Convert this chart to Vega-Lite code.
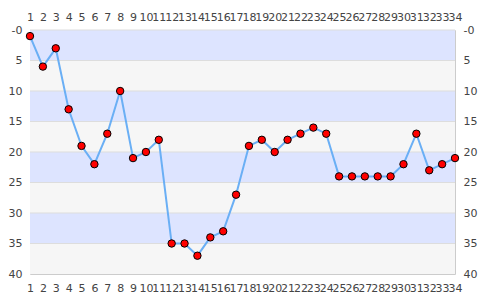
{
  "$schema": "https://vega.github.io/schema/vega-lite/v6.json",
  "width": 425,
  "height": 244,
  "autosize": "none",
  "padding": {"left": 30, "top": 30, "right": 30, "bottom": 26},
  "config": {
    "view": {"stroke": "#cccccc", "strokeWidth": 1},
    "font": "DejaVu Sans",
    "axis": {"labelFont": "DejaVu Sans", "labelFontSize": 11, "labelColor": "#444444", "ticks": false, "domain": false, "grid": false, "title": null}
  },
  "datasets": {
    "bands": [
      {"b0": 0, "b1": 5, "k": "a"},
      {"b0": 5, "b1": 10, "k": "b"},
      {"b0": 10, "b1": 15, "k": "a"},
      {"b0": 15, "b1": 20, "k": "b"},
      {"b0": 20, "b1": 25, "k": "a"},
      {"b0": 25, "b1": 30, "k": "b"},
      {"b0": 30, "b1": 35, "k": "a"},
      {"b0": 35, "b1": 40, "k": "b"}
    ],
    "series": [
      {"x": 1, "y": 1}, {"x": 2, "y": 6}, {"x": 3, "y": 3}, {"x": 4, "y": 13},
      {"x": 5, "y": 19}, {"x": 6, "y": 22}, {"x": 7, "y": 17}, {"x": 8, "y": 10},
      {"x": 9, "y": 21}, {"x": 10, "y": 20}, {"x": 11, "y": 18}, {"x": 12, "y": 35},
      {"x": 13, "y": 35}, {"x": 14, "y": 37}, {"x": 15, "y": 34}, {"x": 16, "y": 33},
      {"x": 17, "y": 27}, {"x": 18, "y": 19}, {"x": 19, "y": 18}, {"x": 20, "y": 20},
      {"x": 21, "y": 18}, {"x": 22, "y": 17}, {"x": 23, "y": 16}, {"x": 24, "y": 17},
      {"x": 25, "y": 24}, {"x": 26, "y": 24}, {"x": 27, "y": 24}, {"x": 28, "y": 24},
      {"x": 29, "y": 24}, {"x": 30, "y": 22}, {"x": 31, "y": 17}, {"x": 32, "y": 23},
      {"x": 33, "y": 22}, {"x": 34, "y": 21}
    ]
  },
  "layer": [
    {
      "data": {"name": "bands"},
      "mark": {"type": "rect"},
      "encoding": {
        "y": {"field": "b0", "type": "quantitative", "scale": {"domain": [0, 40], "reverse": true, "nice": false}, "axis": null},
        "y2": {"field": "b1"},
        "color": {"field": "k", "type": "nominal", "scale": {"domain": ["a", "b"], "range": ["#dde4ff", "#f6f6f6"]}, "legend": null}
      }
    },
    {
      "data": {"name": "bands"},
      "mark": {"type": "rule", "color": "#dddddd", "strokeWidth": 1},
      "encoding": {
        "y": {"field": "b0", "type": "quantitative", "axis": null}
      }
    },
    {
      "data": {"name": "series"},
      "mark": {"type": "line", "color": "#6aaff5", "strokeWidth": 2},
      "encoding": {
        "x": {"field": "x", "type": "quantitative", "scale": {"domain": [1, 34], "nice": false},
          "axis": {"orient": "bottom", "values": [1,2,3,4,5,6,7,8,9,10,11,12,13,14,15,16,17,18,19,20,21,22,23,24,25,26,27,28,29,30,31,32,33,34], "labelPadding": 8, "labelOverlap": false, "labelFlush": false}},
        "y": {"field": "y", "type": "quantitative",
          "axis": {"orient": "left", "values": [0,5,10,15,20,25,30,35,40], "labelPadding": 8, "labelExpr": "datum.value == 0 ? '-0' : datum.label"}}
      }
    },
    {
      "data": {"name": "series"},
      "mark": {"type": "point", "filled": true, "fill": "#ff0000", "stroke": "#000000", "strokeWidth": 1, "size": 55, "opacity": 1},
      "encoding": {
        "x": {"field": "x", "type": "quantitative",
          "axis": {"orient": "top", "values": [1,2,3,4,5,6,7,8,9,10,11,12,13,14,15,16,17,18,19,20,21,22,23,24,25,26,27,28,29,30,31,32,33,34], "labelPadding": 8, "labelOverlap": false, "labelFlush": false}},
        "y": {"field": "y", "type": "quantitative",
          "axis": {"orient": "right", "values": [0,5,10,15,20,25,30,35,40], "labelPadding": 8, "labelExpr": "datum.value == 0 ? '-0' : datum.label"}}
      }
    }
  ]
}
